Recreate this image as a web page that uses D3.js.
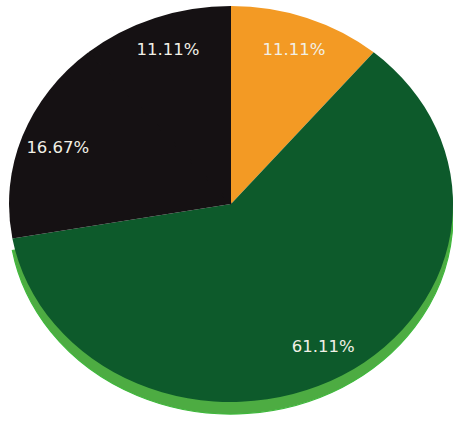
<!DOCTYPE html>
<html>
<head>
<meta charset="utf-8">
<script src="https://cdn.jsdelivr.net/npm/d3@7/dist/d3.min.js"></script>
<style>
  html, body { margin: 0; padding: 0; background: #ffffff; }
  svg { display: block; }
</style>
</head>
<body>
<svg id="chart" width="453" height="426"></svg>
<script>
// ---- data ----
const categories = ["Orange", "Green", "Black A", "Black B"];
const values = [11.11, 61.11, 16.67, 11.11];
const labels = ["11.11%", "61.11%", "16.67%", "11.11%"];
const colors = ["#f39a24", "#0d5a2b", "#151113", "#151113"];
const sideColors = [null, "#4dac42", null, null];

// ---- layout ----
const W = 453, H = 426;
const cx = 231, cy = 204, rx = 222, ry = 198, depth = 12;
const sx = rx / ry;

const svg = d3.select("#chart");

const data = categories.map((c, i) => ({ cat: c, value: values[i], label: labels[i], color: colors[i], side: sideColors[i] }));

const pie = d3.pie().sort(null).value(d => d.value);
const arcs = pie(data);

const arc = d3.arc().innerRadius(0).outerRadius(ry);
const labelArc = d3.arc().innerRadius(ry * 0.83).outerRadius(ry * 0.83);

// side (extruded wall) for the green slice
const sideG = svg.append("g").attr("transform", `translate(${cx},${cy + depth}) scale(${sx},1)`);
sideG.selectAll("path")
  .data(arcs.filter(d => d.data.side))
  .join("path")
  .attr("d", arc)
  .attr("fill", d => d.data.side)
  .attr("stroke", "#3fb83c")
  .attr("stroke-width", 1.2)
  .attr("vector-effect", "non-scaling-stroke");

// top surface: draw slices, then an inner stroke pass to hide seams between same-coloured slices
const topG = svg.append("g").attr("transform", `translate(${cx},${cy}) scale(${sx},1)`);
topG.selectAll("path")
  .data(arcs)
  .join("path")
  .attr("d", arc)
  .attr("fill", d => d.data.color);

const seamArc = d3.arc().innerRadius(0).outerRadius(ry - 1);
topG.append("g").selectAll("path")
  .data(arcs.filter((d, i) => i > 0 && arcs[i - 1].data.color === d.data.color))
  .join("path")
  .attr("d", d => {
    const a = d.startAngle;
    return `M0,0L${Math.sin(a) * (ry - 1)},${-Math.cos(a) * (ry - 1)}`;
  })
  .attr("stroke", d => d.data.color)
  .attr("stroke-width", 2)
  .attr("vector-effect", "non-scaling-stroke");

// labels
svg.append("g").selectAll("text")
  .data(arcs)
  .join("text")
  .attr("x", d => cx + labelArc.centroid(d)[0] * sx)
  .attr("y", d => cy + labelArc.centroid(d)[1])
  .attr("text-anchor", "middle")
  .attr("dominant-baseline", "central")
  .attr("font-family", "'DejaVu Sans', Verdana, sans-serif")
  .attr("font-size", 16.5)
  .attr("fill", "#f1f0e6")
  .text(d => d.data.label);
</script>
</body>
</html>
